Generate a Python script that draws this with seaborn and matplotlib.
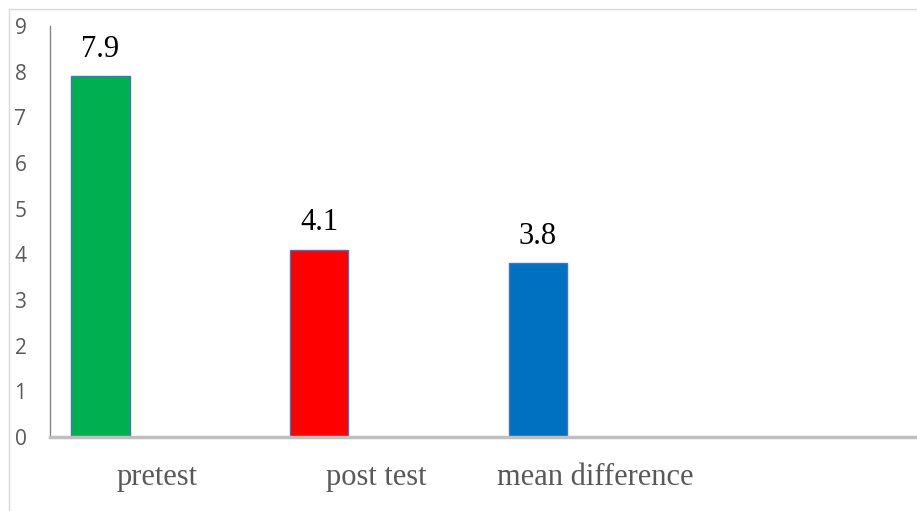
import matplotlib
matplotlib.use("Agg")
import matplotlib.pyplot as plt
from matplotlib.lines import Line2D
import seaborn as sns
import numpy as np
import pandas as pd

# data
categories = ["pretest", "post test", "mean difference"]
values = [7.9, 4.1, 3.8]
bar_colors = ["#00B050", "#FF0000", "#0070C0"]
y_ticks = list(range(0, 10))

sns.set_style("white")

df = pd.DataFrame({"category": categories, "value": values})

fig = plt.figure(figsize=(9.17, 5.11), dpi=100)
ax = fig.add_axes([50 / 917, 1 - 437 / 511, 1 - 50 / 917, (437 - 26) / 511])

sns.barplot(
    data=df,
    x="category",
    y="value",
    hue="category",
    palette=bar_colors,
    order=categories,
    width=0.267,
    edgecolor="#4472C4",
    linewidth=1,
    legend=False,
    saturation=1,
    ax=ax,
)

ax.set_xlim(-0.231, 3.733)
ax.set_ylim(0, 9)
ax.set_yticks(y_ticks)
ax.set_yticklabels([str(t) for t in y_ticks], fontsize=15, color="#595959",
                   family="Open Sans")
ax.tick_params(axis="y", length=0, pad=17)

# x labels sit right of each bar, like the original
ax.set_xticks(np.arange(len(categories)) + 0.26)
ax.set_xticklabels(categories, fontsize=22, color="#595959", family="Liberation Serif")
ax.tick_params(axis="x", length=0, pad=19)
ax.set_xlabel("")
ax.set_ylabel("")

for i, v in enumerate(values):
    ax.annotate(f"{v}", (i, v), xytext=(0, 9), textcoords="offset points",
                ha="center", va="bottom", fontsize=22, family="Liberation Serif",
                color="black")

for side in ["top", "right"]:
    ax.spines[side].set_visible(False)
ax.spines["bottom"].set_color("#BFBFBF")
ax.spines["bottom"].set_linewidth(2.5)
ax.spines["left"].set_color("#868686")
ax.spines["left"].set_linewidth(1)

# outer chart frame (top and left edges visible)
fig.add_artist(Line2D([9 / 917, 1], [1 - 9 / 511, 1 - 9 / 511], color="#D9D9D9",
                      linewidth=1, transform=fig.transFigure))
fig.add_artist(Line2D([9 / 917, 9 / 917], [0, 1 - 9 / 511], color="#D9D9D9",
                      linewidth=1, transform=fig.transFigure))

fig.savefig("out.png", dpi=100)
